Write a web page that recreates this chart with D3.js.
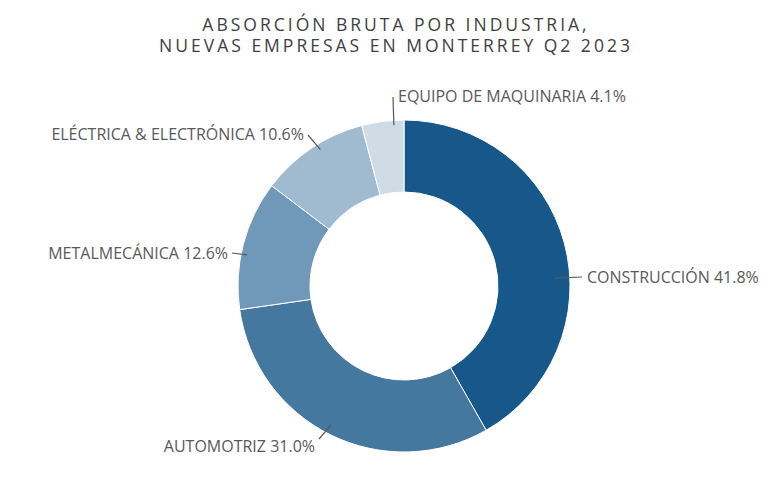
<!DOCTYPE html>
<html>
<head>
<meta charset="utf-8">
<script src="https://cdn.jsdelivr.net/npm/d3@7"></script>
<style>
  body { margin: 0; background: #fff; }
  text { font-family: "Open Sans", sans-serif; }
</style>
</head>
<body>
<div id="container"></div>
<script>
/* DATA */
const categories = ["CONSTRUCCIÓN", "AUTOMOTRIZ", "METALMECÁNICA", "ELÉCTRICA & ELECTRÓNICA", "EQUIPO DE MAQUINARIA"];
const shares = [41.8, 31.0, 12.6, 10.6, 4.1];
const colors = ["#17578a", "#44789f", "#7098b8", "#a0bbd0", "#cfdce6"];
const titleLines = ["ABSORCIÓN BRUTA POR INDUSTRIA,", "NUEVAS EMPRESAS EN MONTERREY Q2 2023"];

/* LAYOUT */
const width = 779, height = 496;
const cx = 404, cy = 286, outerR = 166, innerR = 94;

// where each leader line leaves the ring (degrees clockwise from 12 o'clock, radius)
// and where its label sits
const labelLayout = [
  { angle: 87, r: 151, end: [582, 277], text: [587, 277], anchor: "start" },
  { angle: 207.7, r: 157, end: [319, 439], text: [315, 446], anchor: "end" },
  { angle: 281.2, r: 160, end: [232, 253], text: [228, 253], anchor: "end" },
  { angle: 328.5, r: 160, end: [308, 135], text: [304, 134], anchor: "end" },
  { angle: 356.4, r: 161, end: [393, 97], text: [398, 96], anchor: "start" }
];

const svg = d3.select("#container")
  .append("svg")
  .attr("width", width)
  .attr("height", height);

// title (one text, two lines)
svg.append("text")
  .attr("text-anchor", "middle")
  .attr("fill", "#404040")
  .attr("font-size", 17.5)
  .attr("letter-spacing", 3)
  .selectAll("tspan")
  .data(titleLines)
  .join("tspan")
  .attr("x", 396)
  .attr("y", (d, i) => 31 + i * 21)
  .text(d => d);

const data = categories.map((c, i) => ({ name: c, value: shares[i], color: colors[i] }));

const pie = d3.pie()
  .sort(null)
  .value(d => d.value);

const arc = d3.arc()
  .innerRadius(innerR)
  .outerRadius(outerR);

const g = svg.append("g")
  .attr("transform", `translate(${cx},${cy})`);

g.selectAll("path")
  .data(pie(data))
  .join("path")
  .attr("d", arc)
  .attr("fill", d => d.data.color)
  .attr("stroke", "#fff")
  .attr("stroke-width", 1);

// leader lines + labels
const labels = svg.append("g");

data.forEach((d, i) => {
  const L = labelLayout[i];
  const p = d3.pointRadial(L.angle * Math.PI / 180, L.r);
  labels.append("line")
    .attr("x1", cx + p[0])
    .attr("y1", cy + p[1])
    .attr("x2", L.end[0])
    .attr("y2", L.end[1])
    .attr("stroke", "#595959")
    .attr("stroke-width", 1.2);
  labels.append("text")
    .attr("x", L.text[0])
    .attr("y", L.text[1])
    .attr("dy", "0.35em")
    .attr("text-anchor", L.anchor)
    .attr("fill", "#595959")
    .attr("font-size", 16)
    .text(`${d.name} ${d.value.toFixed(1)}%`);
});
</script>
</body>
</html>
